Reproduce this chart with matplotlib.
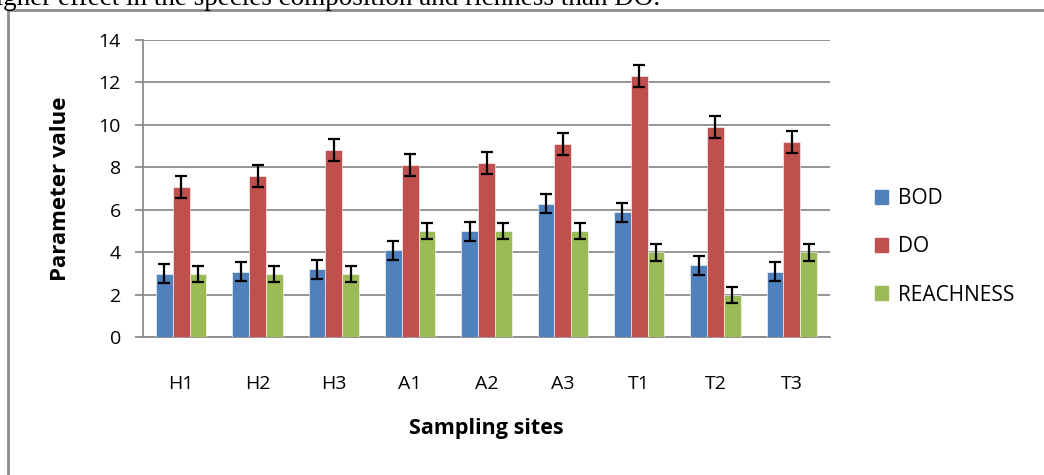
import matplotlib
matplotlib.use("Agg")
import matplotlib.pyplot as plt
import numpy as np
from matplotlib.patches import Rectangle
from matplotlib.lines import Line2D

sites = ["H1", "H2", "H3", "A1", "A2", "A3", "T1", "T2", "T3"]
bod = [3.0, 3.1, 3.2, 4.1, 5.0, 6.3, 5.9, 3.4, 3.1]
do = [7.1, 7.6, 8.8, 8.1, 8.2, 9.1, 12.3, 9.9, 9.2]
reachness = [3.0, 3.0, 3.0, 5.0, 5.0, 5.0, 4.0, 2.0, 4.0]
bod_err = [0.45, 0.45, 0.45, 0.45, 0.45, 0.45, 0.45, 0.45, 0.45]
do_err = [0.52, 0.52, 0.52, 0.52, 0.52, 0.52, 0.52, 0.52, 0.52]
reach_err = [0.38, 0.38, 0.38, 0.38, 0.38, 0.38, 0.38, 0.38, 0.38]
series_names = ["BOD", "DO", "REACHNESS"]
colors = ["#4F81BD", "#C0504D", "#9BBB59"]
yticks = [0, 2, 4, 6, 8, 10, 12, 14]

plt.rcParams['font.family'] = ['Open Sans', 'DejaVu Sans']

fig = plt.figure(figsize=(10.44, 4.75), dpi=100)
ax = fig.add_axes([0.137, 0.2895, 0.658, 0.6265])

x = np.arange(len(sites))
w = 0.22
data = [bod, do, reachness]
errs = [bod_err, do_err, reach_err]
for i, (vals, er, c, nm) in enumerate(zip(data, errs, colors, series_names)):
    ax.bar(x + (i - 1) * w, vals, width=w, color=c, label=nm, zorder=3,
           edgecolor='white', linewidth=0.4)
    ax.errorbar(x + (i - 1) * w, vals, yerr=er, fmt='none', ecolor='black',
                elinewidth=1.6, capsize=4.5, capthick=1.6, zorder=4)

ax.set_xlim(-0.5, len(sites) - 0.5)
ax.set_ylim(0, 14)
ax.set_yticks(yticks)
ax.set_yticklabels([str(t) for t in yticks], fontsize=14)
ax.set_xticks(x)
ax.set_xticklabels(sites, fontsize=14)
ax.yaxis.grid(True, color='#8C8C8C', linewidth=1.3, zorder=0)
ax.set_axisbelow(True)
for s in ['top', 'right']:
    ax.spines[s].set_visible(False)
for s in ['left', 'bottom']:
    ax.spines[s].set_color('#8C8C8C')
    ax.spines[s].set_linewidth(1.3)
ax.tick_params(axis='y', length=6, width=1.3, color='#8C8C8C', pad=10)
ax.tick_params(axis='x', length=0, pad=27)

ax.set_xlabel("Sampling sites", fontsize=15.5, fontweight='bold', labelpad=18)
ax.set_ylabel("Parameter value", fontsize=16, fontweight='bold', labelpad=20)

handles = [Rectangle((0, 0), 1, 1, color=c) for c in colors]
fig.legend(handles, series_names, loc='center left', bbox_to_anchor=(0.82, 0.48),
           frameon=False, fontsize=15, handlelength=0.65, handleheight=0.65,
           handletextpad=0.45, labelspacing=1.3)

# frame of the embedded chart
fig.add_artist(Line2D([0.0072, 0.0072], [0, 0.978], transform=fig.transFigure,
                      color='#8C8C8C', linewidth=2))
fig.add_artist(Line2D([0.0072, 1.0], [0.978, 0.978], transform=fig.transFigure,
                      color='#8C8C8C', linewidth=2))

# cut-off document text above the chart
fig.text(-0.017, 0.99, "higher effect in the species composition and richness than DO.",
         family=['Liberation Serif', 'DejaVu Serif'], fontsize=19.5, va='baseline', ha='left')

fig.savefig("out.png", dpi=100)
